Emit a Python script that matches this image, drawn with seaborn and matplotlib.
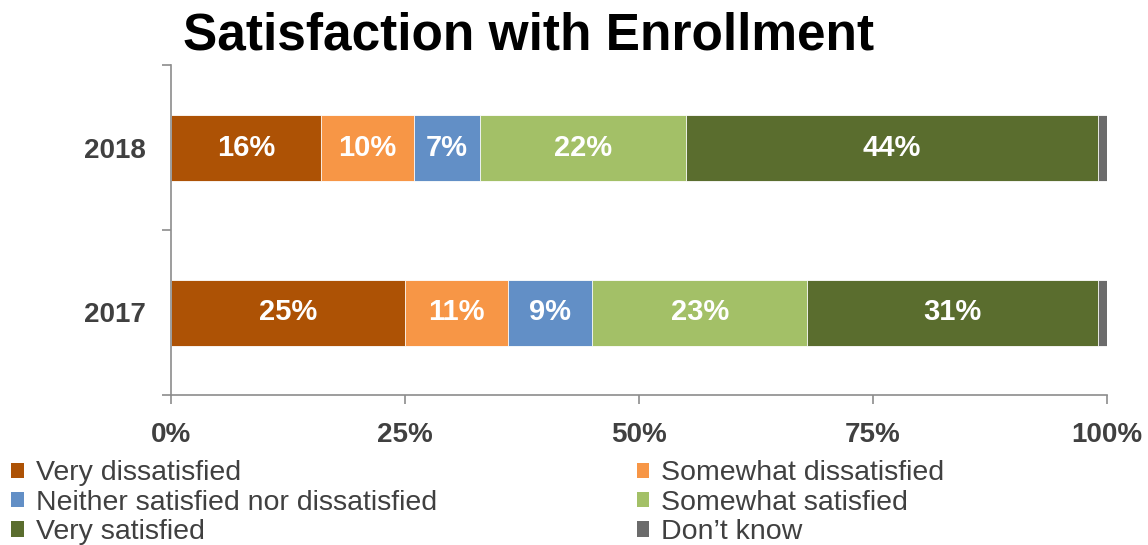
import matplotlib
matplotlib.use("Agg")
import matplotlib.pyplot as plt
from matplotlib.patches import Patch
import numpy as np
import pandas as pd
import seaborn as sns

# Survey results (percent of respondents)
years = ["2018", "2017"]
categories = ["Very dissatisfied", "Somewhat dissatisfied",
              "Neither satisfied nor dissatisfied", "Somewhat satisfied",
              "Very satisfied", "Don\u2019t know"]
values_2018 = [16, 10, 7, 22, 44, 1]
values_2017 = [25, 11, 9, 23, 31, 1]
colors = ["#AD5205", "#F79646", "#628FC6", "#A3C067", "#5A6D2E", "#6B6B6B"]
show_label = [True, True, True, True, True, False]
x_ticks = [0, 25, 50, 75, 100]
x_tick_labels = ["0%", "25%", "50%", "75%", "100%"]

sns.set_theme(style="white")
plt.rcParams["font.family"] = ["Liberation Sans", "DejaVu Sans"]

df = pd.DataFrame({"year": years,
                   **{c: [a, b] for c, a, b in zip(categories, values_2018, values_2017)}})
cum = df[categories].cumsum(axis=1)

fig = plt.figure(figsize=(11.48, 5.45), dpi=100)
ax = fig.add_axes([171 / 1148, 1 - 395 / 545, 936 / 1148, 330 / 545])

# Stacked bars: draw cumulative totals from the outermost segment inward
for i in range(len(categories) - 1, -1, -1):
    sns.barplot(x=cum[categories[i]], y=df["year"], order=years, orient="h",
                color=colors[i], width=0.4, saturation=1,
                edgecolor="white", linewidth=0.6, ax=ax)

# Segment value labels
for r, year in enumerate(years):
    for i, cat in enumerate(categories):
        if not show_label[i]:
            continue
        v = df.loc[r, cat]
        ax.text(cum.loc[r, cat] - v / 2, r, f"{v:.0f}%", ha="center", va="center",
                color="white", fontsize=21, fontweight="bold")

ax.set_xlim(0, 100)
ax.set_ylim(1.5, -0.5)
ax.set_xlabel("")
ax.set_ylabel("")
ax.set_xticks(x_ticks)
ax.set_xticklabels(x_tick_labels)
ax.set_yticks([0, 1])
ax.set_yticklabels(years)
ax.set_yticks([-0.5, 0.5, 1.5], minor=True)

axis_color = "#8C8C8C"
for side in ["top", "right"]:
    ax.spines[side].set_visible(False)
for side in ["left", "bottom"]:
    ax.spines[side].set_color(axis_color)
    ax.spines[side].set_linewidth(1.2)

ax.tick_params(axis="x", which="major", length=6.5, width=1.2, color=axis_color,
               direction="out", pad=13, labelsize=20, labelcolor="#404040",
               bottom=True)
ax.tick_params(axis="y", which="major", length=0, pad=18, labelsize=20,
               labelcolor="#404040", left=True)
ax.tick_params(axis="y", which="minor", length=6.5, width=1.2, color=axis_color,
               direction="out", left=True)
for lab in ax.get_xticklabels() + ax.get_yticklabels():
    lab.set_fontweight("bold")

fig.text(183 / 1148, 1 - 50 / 545, "Satisfaction with Enrollment",
         fontsize=37, fontweight="bold", color="black", ha="left", va="baseline")

# Legend laid out row by row in two columns
handles = [Patch(facecolor=c, edgecolor="none") for c in colors]
order = [0, 2, 4, 1, 3, 5]
leg = fig.legend([handles[k] for k in order], [categories[k] for k in order],
                 ncol=2, loc="upper left", bbox_to_anchor=(0.0, 1 - 449 / 545),
                 frameon=False, fontsize=20.5, handlelength=0.45, handleheight=0.45,
                 handletextpad=0.42, columnspacing=7.0, labelspacing=0.12,
                 borderaxespad=0, borderpad=0.4)
for t in leg.get_texts():
    t.set_color("#404040")

fig.savefig("out.png", dpi=100)
